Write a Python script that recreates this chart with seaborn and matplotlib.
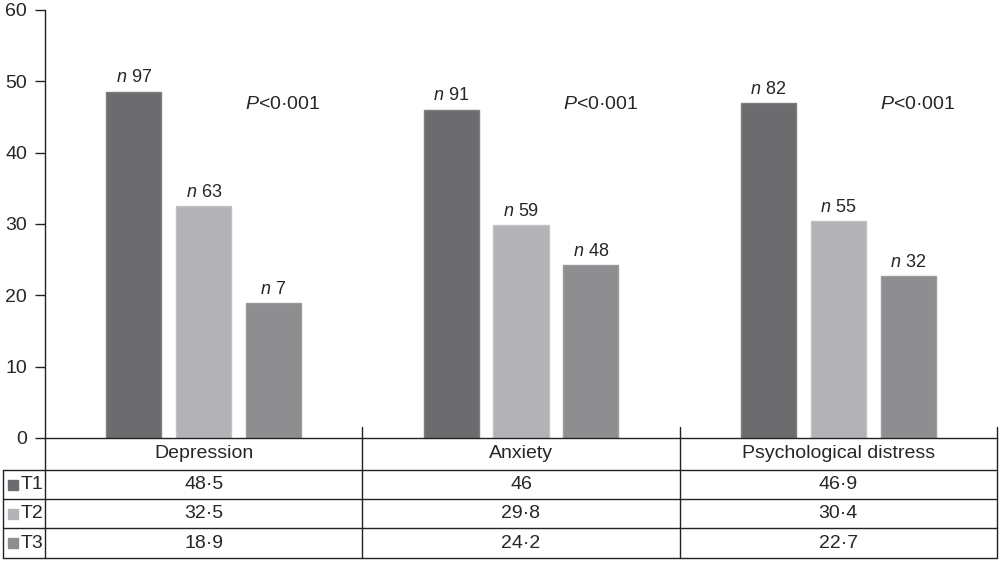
import pandas as pd
import matplotlib
matplotlib.use('Agg')
import matplotlib.pyplot as plt
import seaborn as sns

# Chart data
categories = ['Depression', 'Anxiety', 'Psychological distress']
times = ['T1', 'T2', 'T3']
t1_values = [48.5, 46, 46.9]
t2_values = [32.5, 29.8, 30.4]
t3_values = [18.9, 24.2, 22.7]
t1_n = [97, 91, 82]
t2_n = [63, 59, 55]
t3_n = [7, 48, 32]
p_labels = ['P<0·001', 'P<0·001', 'P<0·001']
y_ticks = [0, 10, 20, 30, 40, 50, 60]

colors = ['#6b6b70', '#b3b3b7', '#8d8d91']
edge_colors = ['#7d7d82', '#c2c2c5', '#9c9ca0']

# Build long-form table for seaborn
rows = []
for vals, ns, t in zip([t1_values, t2_values, t3_values], [t1_n, t2_n, t3_n], times):
    for c, v, n in zip(categories, vals, ns):
        rows.append({'category': c, 'time': t, 'value': v, 'n': n})
df = pd.DataFrame(rows)

sns.set_style('white')
plt.rcParams['font.family'] = ['Liberation Sans', 'DejaVu Sans']
plt.rcParams['mathtext.fontset'] = 'custom'
plt.rcParams['mathtext.rm'] = 'Liberation Sans'
plt.rcParams['mathtext.it'] = 'Liberation Sans:italic'

fig = plt.figure(figsize=(10, 5.62), dpi=100)
ax = fig.add_axes([0.045, 124 / 562, 0.952, 428 / 562])

sns.barplot(data=df, x='category', y='value', hue='time', order=categories,
            hue_order=times, palette=colors, width=0.66, gap=0.21,
            linewidth=1, ax=ax, legend=False)

# bar edges slightly lighter, n labels above
for container, ecol, t in zip(ax.containers, edge_colors, times):
    sub = df[df['time'] == t].set_index('category').loc[categories]
    for bar, n in zip(container, sub['n']):
        bar.set_edgecolor(ecol)
        ax.annotate(f'$n$ {n}', (bar.get_x() + bar.get_width() / 2, bar.get_height()),
                    xytext=(0, 4), textcoords='offset points', ha='center', va='bottom',
                    fontsize=13)

for i, p in enumerate(p_labels):
    ax.text(i + 0.25, 46.8, '$P$' + p[1:], ha='center', va='center', fontsize=14)

ax.set_xlim(-0.5, 2.5)
ax.set_ylim(0, 60)
ax.set_yticks(y_ticks)
ax.tick_params(axis='y', left=True, length=7, width=1, labelsize=14, pad=6, color='#222222')
ax.set_xticks([])
ax.set_xlabel('')
ax.set_ylabel('')
for s in ['top', 'right']:
    ax.spines[s].set_visible(False)
for s in ['left', 'bottom']:
    ax.spines[s].set_linewidth(1)
    ax.spines[s].set_color('#222222')

# Table under the chart (x in data, y in axes fraction)
tr = ax.get_xaxis_transform()
px = 1 / 428  # one pixel in axes fraction
row_edges = [-32 * px, -61 * px, -90 * px, -120 * px]
left_x = -0.5 - 42 / 317.3
lc = '#222222'
lw = 1

# vertical lines
ax.plot([-0.5, -0.5], [0, row_edges[-1]], transform=tr, clip_on=False, color=lc, lw=lw)
ax.plot([left_x, left_x], [row_edges[0], row_edges[-1]], transform=tr, clip_on=False, color=lc, lw=lw)
for xv in [0.5, 1.5, 2.5]:
    ax.plot([xv, xv], [11 * px, row_edges[-1]], transform=tr, clip_on=False, color=lc, lw=lw)
# horizontal lines
for yv in row_edges:
    ax.plot([left_x, 2.5], [yv, yv], transform=tr, clip_on=False, color=lc, lw=lw)

# header row
for i, c in enumerate(categories):
    ax.text(i, row_edges[0] / 2, c, transform=tr, ha='center', va='center', fontsize=14)

# value rows
all_vals = [t1_values, t2_values, t3_values]
for r, (t, vals, col) in enumerate(zip(times, all_vals, colors)):
    yc = (row_edges[r] + row_edges[r + 1]) / 2
    ax.plot([left_x + 0.032], [yc], marker='s', markersize=7.5, color=col,
            transform=tr, clip_on=False, linestyle='none')
    ax.text(left_x + 0.056, yc, t, transform=tr, ha='left', va='center', fontsize=14)
    for i, v in enumerate(vals):
        ax.text(i, yc, f'{v:g}'.replace('.', '·'), transform=tr,
                ha='center', va='center', fontsize=14)

fig.savefig('out.png', dpi=100)
